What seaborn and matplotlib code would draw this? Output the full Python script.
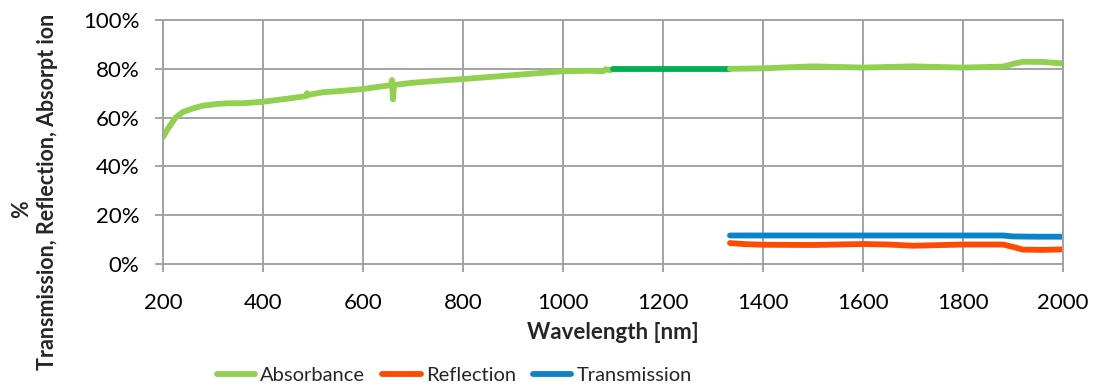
import matplotlib
matplotlib.use("Agg")
import matplotlib.pyplot as plt
import seaborn as sns
import pandas as pd
from matplotlib.ticker import PercentFormatter

# Absorbance (measured, light green)
abs_wl = [200, 210, 225, 240, 260, 280, 308, 330, 360, 400, 450, 486, 488, 490, 520, 560, 600,
          630, 656, 658, 660, 662, 700, 750, 800, 850, 900, 950, 1000, 1050, 1080, 1085, 1094, 1100]
abs_val = [52.0, 55.5, 60.0, 62.3, 63.8, 64.9, 65.6, 65.9, 65.9, 66.5, 67.8, 68.8, 70.0, 69.3, 70.4, 71.0, 71.7,
           72.6, 73.3, 75.4, 67.5, 73.4, 74.3, 75.1, 75.8, 76.6, 77.4, 78.2, 79.0, 79.2, 79.0, 79.8, 79.5, 79.8]
# Absorbance bridge segment (dark green)
gap_wl = [1100, 1334]
gap_val = [79.8, 79.8]
# Absorbance (second detector range)
abs2_wl = [1334, 1400, 1500, 1600, 1700, 1800, 1880, 1900, 1920, 1960, 2000]
abs2_val = [80.0, 80.2, 81.0, 80.5, 81.0, 80.5, 80.9, 82.0, 82.9, 82.8, 82.2]
# Reflection
ref_wl = [1334, 1360, 1400, 1500, 1600, 1650, 1700, 1800, 1880, 1900, 1920, 1960, 2000]
ref_val = [8.6, 8.2, 7.9, 7.8, 8.2, 8.0, 7.5, 8.0, 8.0, 7.0, 5.9, 5.8, 6.0]
# Transmission
tra_wl = [1334, 1500, 1700, 1880, 1900, 1950, 2000]
tra_val = [11.7, 11.7, 11.7, 11.7, 11.3, 11.2, 11.2]

GREEN = "#92D050"
DGREEN = "#00B050"
RED = "#FF4A00"
BLUE = "#0A84C8"
GRID = "#A3A3A3"

sns.set_theme(style="white")
plt.rcParams["font.family"] = ["Lato", "DejaVu Sans"]

fig = plt.figure(figsize=(10.94, 3.90), dpi=100)
ax = fig.add_axes([0.149, 0.323, 0.8227, 0.6257])

lw = 4.2
df_abs = pd.DataFrame({"wl": abs_wl, "v": [v / 100 for v in abs_val]})
df_gap = pd.DataFrame({"wl": gap_wl, "v": [v / 100 for v in gap_val]})
df_abs2 = pd.DataFrame({"wl": abs2_wl, "v": [v / 100 for v in abs2_val]})
df_ref = pd.DataFrame({"wl": ref_wl, "v": [v / 100 for v in ref_val]})
df_tra = pd.DataFrame({"wl": tra_wl, "v": [v / 100 for v in tra_val]})

sns.lineplot(data=df_abs, x="wl", y="v", ax=ax, color=GREEN, lw=lw, label="Absorbance",
             solid_capstyle="round", sort=False, estimator=None)
sns.lineplot(data=df_gap, x="wl", y="v", ax=ax, color=DGREEN, lw=lw, legend=False,
             solid_capstyle="round", estimator=None)
sns.lineplot(data=df_abs2, x="wl", y="v", ax=ax, color=GREEN, lw=lw, legend=False,
             solid_capstyle="round", estimator=None)
sns.lineplot(data=df_ref, x="wl", y="v", ax=ax, color=RED, lw=lw, label="Reflection",
             solid_capstyle="round", estimator=None)
sns.lineplot(data=df_tra, x="wl", y="v", ax=ax, color=BLUE, lw=lw, label="Transmission",
             solid_capstyle="round", estimator=None)

ax.set_xlim(200, 2000)
ax.set_ylim(0, 1.0)
ax.set_xticks(range(200, 2001, 200))
ax.set_yticks([0, 0.2, 0.4, 0.6, 0.8, 1.0])
ax.yaxis.set_major_formatter(PercentFormatter(1.0, decimals=0))

ax.grid(True, color=GRID, lw=1.4)
ax.set_axisbelow(True)
for s in ax.spines.values():
    s.set_color(GRID)
    s.set_linewidth(1.4)
ax.tick_params(axis="both", labelsize=16, colors="#000000", length=6, width=1.4,
               color=GRID, direction="out", left=True, bottom=True)
ax.tick_params(axis="x", pad=15)
ax.tick_params(axis="y", pad=11)

ax.set_xlabel("Wavelength [nm]", fontsize=16, fontweight="bold", labelpad=6)
ax.set_ylabel("")
fig.text(22 / 1094, 1 - 209 / 390, "%", rotation=90, fontsize=15.5, fontweight="bold",
         ha="center", va="center")
fig.text(48 / 1094, 1 - 192 / 390, "Transmission, Reflection, Absorpt ion", rotation=90,
         fontsize=15.5, fontweight="bold", ha="center", va="center")

leg = ax.legend(loc="center left", bbox_to_anchor=((217 - 163) / 900, (264 - 375) / 244),
                ncol=3, frameon=False, fontsize=14.5, handlelength=1.9, handletextpad=0.25,
                columnspacing=0.85, borderaxespad=0, borderpad=0)
for line in leg.get_lines():
    line.set_linewidth(4.2)

fig.savefig("out.png", dpi=100)
